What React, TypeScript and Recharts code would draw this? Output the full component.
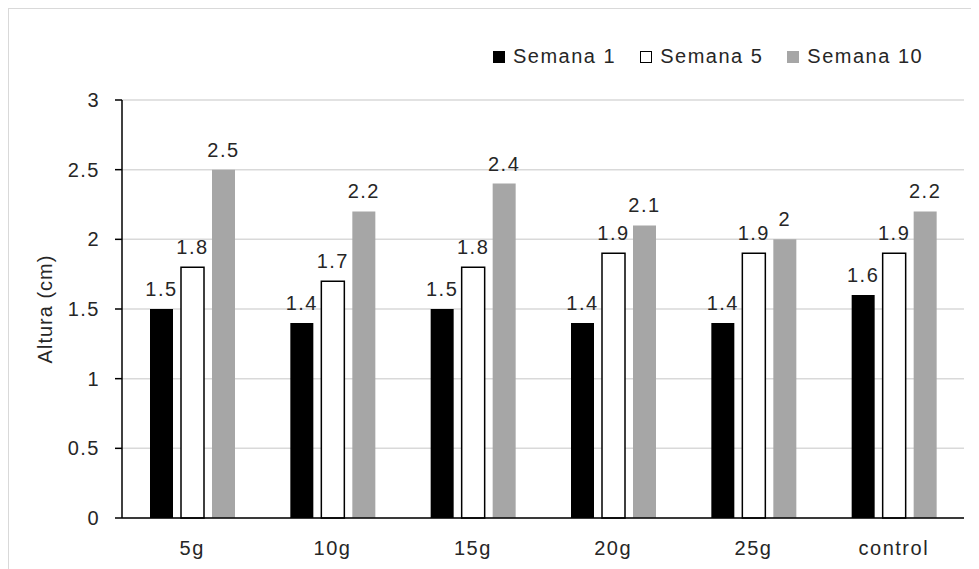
import React from 'react';
import { BarChart, Bar, XAxis, YAxis, CartesianGrid, LabelList } from 'recharts';

const categories = ['5g', '10g', '15g', '20g', '25g', 'control'];
const semana1 = [1.5, 1.4, 1.5, 1.4, 1.4, 1.6];
const semana5 = [1.8, 1.7, 1.8, 1.9, 1.9, 1.9];
const semana10 = [2.5, 2.2, 2.4, 2.1, 2, 2.2];
const yTicks = [0, 0.5, 1, 1.5, 2, 2.5, 3];
const seriesNames = ['Semana 1', 'Semana 5', 'Semana 10'];

const data = categories.map((c, i) => ({
  name: c,
  s1: semana1[i],
  s5: semana5[i],
  s10: semana10[i],
}));

const FONT = '"Liberation Sans", Arial, sans-serif';
const TEXT = '#262626';
const textStyle = { fontFamily: FONT, fontSize: 20, letterSpacing: 1.5, fill: TEXT };

const legendItems = [
  { name: seriesNames[0], fill: '#000000', stroke: '#000000' },
  { name: seriesNames[1], fill: '#ffffff', stroke: '#000000' },
  { name: seriesNames[2], fill: '#a6a6a6', stroke: '#a6a6a6' },
];

const LegendBox = () => (
  <div
    style={{
      position: 'absolute',
      top: 36,
      left: 484,
      display: 'flex',
      alignItems: 'center',
      fontFamily: FONT,
      fontSize: 20,
      letterSpacing: 1.5,
      color: TEXT,
      whiteSpace: 'nowrap',
    }}
  >
    {legendItems.map((it, i) => (
      <div key={it.name} style={{ display: 'flex', alignItems: 'center', marginRight: i < 2 ? 24 : 0 }}>
        <span style={{ display: 'inline-block', width: 10, height: 10, background: it.fill, border: `1px solid ${it.stroke}`, marginRight: 8 }} />
        <span>{it.name}</span>
      </div>
    ))}
  </div>
);

const labelStyle = { fontFamily: FONT, fontSize: 20, letterSpacing: 1.5, fill: TEXT };

export default function App() {
  return (
    <div style={{ width: 971, height: 561, borderTop: '1px solid #d9d9d9', borderLeft: '1px solid #d9d9d9', boxSizing: 'border-box', position: 'relative' }}>
      <BarChart
        width={970}
        height={560}
        data={data}
        margin={{ top: 91, right: 15, bottom: 21, left: 0 }}
        barSize={23}
        barGap={8}
      >
        <CartesianGrid vertical={false} stroke="#d9d9d9" strokeWidth={1.5} />
        <XAxis
          dataKey="name"
          height={30}
          axisLine={{ stroke: '#000000', strokeWidth: 1.5 }}
          tickLine={false}
          tickSize={0}
          tickMargin={23}
          tick={textStyle}
          interval={0}
        />
        <YAxis
          domain={[0, 3]}
          ticks={yTicks}
          width={113}
          axisLine={{ stroke: '#000000', strokeWidth: 1.5 }}
          tickLine={{ stroke: '#000000', strokeWidth: 1.5 }}
          tickSize={7}
          tickMargin={15}
          tick={textStyle}
          label={{
            value: 'Altura (cm)',
            angle: -90,
            position: 'insideLeft',
            offset: 36,
            style: { fontFamily: FONT, fontSize: 20, letterSpacing: 1, fill: TEXT, textAnchor: 'middle' },
          }}
        />
        <Bar dataKey="s1" name={seriesNames[0]} fill="#000000" isAnimationActive={false}>
          <LabelList dataKey="s1" position="top" offset={13} style={labelStyle} />
        </Bar>
        <Bar dataKey="s5" name={seriesNames[1]} fill="#ffffff" stroke="#000000" strokeWidth={1.5} isAnimationActive={false}>
          <LabelList dataKey="s5" position="top" offset={13} style={labelStyle} />
        </Bar>
        <Bar dataKey="s10" name={seriesNames[2]} fill="#a6a6a6" isAnimationActive={false}>
          <LabelList dataKey="s10" position="top" offset={13} style={labelStyle} />
        </Bar>
      </BarChart>
      <LegendBox />
    </div>
  );
}
